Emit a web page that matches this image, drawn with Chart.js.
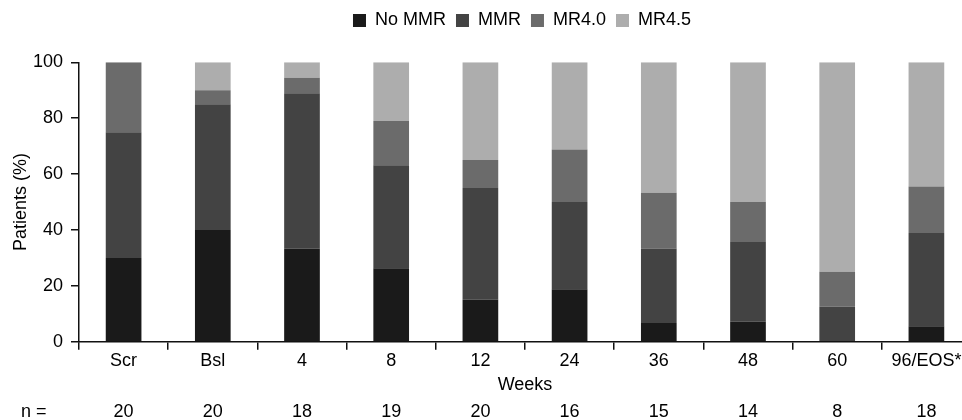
<!DOCTYPE html>
<html>
<head>
<meta charset="utf-8">
<script src="https://cdn.jsdelivr.net/npm/chart.js@4.4.1/dist/chart.umd.min.js"></script>
<style>
  html, body { margin: 0; padding: 0; background: #ffffff; overflow: hidden; }
  #wrap { width: 962px; height: 420px; overflow: hidden; }
  canvas { display: block; }
</style>
</head>
<body>
<div id="wrap"><canvas id="c" width="972" height="420"></canvas></div>
<script>
// ---- data ----
const categories = ['Scr', 'Bsl', '4', '8', '12', '24', '36', '48', '60', '96/EOS*'];
const nCounts = [20, 20, 18, 19, 20, 16, 15, 14, 8, 18];
const noMMR = [30, 40, 33.33, 26.32, 15, 18.75, 6.67, 7.14, 0, 5.56];
const mmr   = [45, 45, 55.56, 36.84, 40, 31.25, 26.67, 28.57, 12.5, 33.33];
const mr40  = [25, 5, 5.56, 15.79, 10, 18.75, 20, 14.29, 12.5, 16.67];
const mr45  = [0, 10, 5.55, 21.05, 35, 31.25, 46.66, 50, 75, 44.44];
const seriesNames = ['No MMR', 'MMR', 'MR4.0', 'MR4.5'];
const yTicks = [0, 20, 40, 60, 80, 100];
const xTitle = 'Weeks';
const yTitle = 'Patients (%)';
const nPrefix = 'n =';

// ---- style ----
const FONT = '"Liberation Sans", Arial, Helvetica, sans-serif';
const colors = ['#1a1a1a', '#434343', '#6b6b6b', '#adadad'];
const ink = '#111111';
Chart.defaults.font.family = FONT;
Chart.defaults.font.size = 18;
Chart.defaults.color = '#000000';

const seriesValues = [noMMR, mmr, mr40, mr45];
const datasets = seriesNames.map((name, i) => ({
  label: name,
  data: seriesValues[i],
  backgroundColor: colors[i],
  borderWidth: 0,
  categoryPercentage: 1.0,
  barPercentage: 0.40
}));

const N_PAD = 5;
const LEGEND_ITEM_TOP = 11.5;
const LEGEND_SHIFT = -3;

const adjustPlugin = {
  id: 'adjust',
  afterLayout(chart) {
    const lg = chart.legend;
    const ca = chart.chartArea;
    if (lg) {
      const h = lg.bottom - lg.top;
      const pad = lg.options.labels.padding;
      lg.left = ca.left + LEGEND_SHIFT;
      lg.right = ca.right + LEGEND_SHIFT;
      lg.width = ca.right - ca.left;
      lg.top = LEGEND_ITEM_TOP - pad;
      lg.bottom = lg.top + h;
    }
  },
  afterDraw(chart) {
    const sc = chart.scales.xN;
    const ctx = chart.ctx;
    ctx.save();
    ctx.font = '18px ' + FONT;
    ctx.fillStyle = '#000000';
    ctx.textAlign = 'left';
    ctx.textBaseline = 'middle';
    ctx.fillText(nPrefix, 21, sc.top + N_PAD + 10.8);
    ctx.restore();
  }
};

new Chart(document.getElementById('c'), {
  type: 'bar',
  data: { labels: categories, datasets },
  plugins: [adjustPlugin],
  options: {
    responsive: false,
    animation: false,
    devicePixelRatio: 1,
    layout: { padding: { top: 24.3, right: 1, bottom: 0, left: 0 } },
    plugins: {
      tooltip: { enabled: false },
      legend: {
        display: true,
        position: 'top',
        labels: {
          boxWidth: 13,
          boxHeight: 13,
          padding: 10,
          color: '#000000',
          font: { size: 18, family: FONT }
        }
      }
    },
    scales: {
      x: {
        type: 'category',
        stacked: true,
        offset: true,
        position: 'bottom',
        afterFit(s) { s.height = 54.1; },
        grid: {
          display: true,
          offset: true,
          drawOnChartArea: false,
          drawTicks: true,
          tickLength: 8,
          color: ink,
          lineWidth: 1.5
        },
        border: { display: true, color: ink, width: 1.5 },
        ticks: { padding: 1, color: '#000000', font: { size: 18 }, maxRotation: 0, autoSkip: false },
        title: { display: true, text: xTitle, color: '#000000', font: { size: 18 }, padding: { top: 0, bottom: 0 } }
      },
      xN: {
        type: 'category',
        labels: nCounts.map(String),
        offset: true,
        position: 'bottom',
        afterFit(s) { s.height = 24.2; },
        grid: { display: false, drawTicks: false },
        border: { display: false },
        ticks: { padding: N_PAD, color: '#000000', font: { size: 18 }, maxRotation: 0, autoSkip: false }
      },
      y: {
        stacked: true,
        min: 0,
        max: 100,
        afterFit(s) { s.width = 79; },
        afterBuildTicks(s) { s.ticks = yTicks.map(v => ({ value: v })); },
        grid: {
          display: true,
          drawOnChartArea: false,
          drawTicks: true,
          tickLength: 8,
          color: ink,
          lineWidth: 1.5
        },
        border: { display: true, color: ink, width: 1.5 },
        ticks: { padding: 8, color: '#000000', font: { size: 18 } },
        title: { display: true, text: yTitle, color: '#000000', font: { size: 18 }, padding: { top: 10, bottom: 0 } }
      }
    }
  }
});
</script>
</body>
</html>
